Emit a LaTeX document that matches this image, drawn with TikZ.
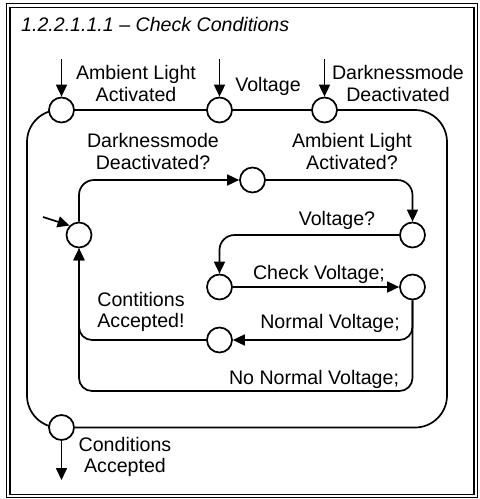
\documentclass[tikz,border=0pt]{standalone}
\usepackage{fontspec}
\setmainfont{Liberation Sans}
\usetikzlibrary{arrows.meta,positioning}

\begin{document}
\begin{tikzpicture}[x=1pt,y=-1pt,
    font=\fontsize{19.6}{21.7}\selectfont,
    state/.style={circle,draw,fill=white,line width=1.7pt,minimum size=25pt,inner sep=0pt},
    flow/.style={line width=1.7pt,-{Triangle[length=12pt,width=11pt]}},
    lbl/.style={inner sep=0pt,align=center}]
  \useasboundingbox (0,0) rectangle (480,499);
  % frame
  \draw[line width=1.4pt] (6.5,3.5) rectangle (477.5,497.5);
  \draw[line width=1.4pt] (10,7.5) rectangle (474,494.5);
  \node[anchor=base west,inner sep=0pt,font=\fontsize{19.6}{21.7}\selectfont\itshape] (title) at (21,31) {1.2.2.1.1.1 -- Check Conditions};

  % superstate
  \draw[line width=1.7pt,rounded corners=32pt] (27,110) rectangle (447,427.5);
  \node[state] (amb) at (61.5,110) {};
  \node[state] (volt) at (219.5,110) {};
  \node[state] (dark) at (324.5,110) {};
  \node[state] (done) at (61.5,427.5) {};

  \coordinate (inamb) at (61.5,59);
  \coordinate (involt) at (219.5,59);
  \coordinate (indark) at (324.5,59);
  \coordinate (outdone) at (61.5,480);
  \draw[flow] (inamb) -- (amb.north);
  \draw[flow] (involt) -- (volt.north);
  \draw[flow] (indark) -- (dark.north);
  \draw[flow] (done.south) -- (outdone);

  \node[lbl] at (136,83.5) {Ambient Light\\Activated};
  \node[lbl] at (268,86.5) {Voltage};
  \node[lbl] at (398,83.5) {Darknessmode\\Deactivated};
  \node[lbl] at (125,457) {Conditions\\Accepted};

  % inner states
  \node[state] (wait) at (79,235) {};
  \node[state] (gotdark) at (252.5,180) {};
  \node[state] (gotamb) at (412.5,235) {};
  \node[state] (check) at (219.5,287) {};
  \node[state] (result) at (412.5,287) {};
  \node[state] (accept) at (219.5,340) {};

  \coordinate (init) at (43,217);
  \coordinate (low) at (412.5,391);
  \draw[flow] (init) -- (wait.north west);
  \draw[flow,rounded corners=15pt] (wait.north) |- (gotdark.west);
  \draw[flow,rounded corners=15pt] (gotdark.east) -| (gotamb.north);
  \draw[flow,rounded corners=15pt] (gotamb.west) -| (check.north);
  \draw[flow] (check.east) -- (result.west);
  \draw[flow,rounded corners=13pt] (result.south) |- (accept.east);
  \draw[flow,rounded corners=13pt] (accept.west) -| (wait.south);
  \draw[flow,rounded corners=13pt] (result.south) -- (low) -- (wait.south |- low) -- (wait.south);

  \node[lbl] at (153,151.5) {Darknessmode\\Deactivated?};
  \node[lbl] at (352,151.5) {Ambient Light\\Activated?};
  \node[lbl] at (337,220) {Voltage?};
  \node[lbl] at (319,274) {Check Voltage;};
  \node[lbl] at (330,323) {Normal Voltage;};
  \node[lbl] at (141,312) {Contitions\\Accepted!};
  \node[lbl] at (314,379.5) {No Normal Voltage;};
\end{tikzpicture}
\end{document}
